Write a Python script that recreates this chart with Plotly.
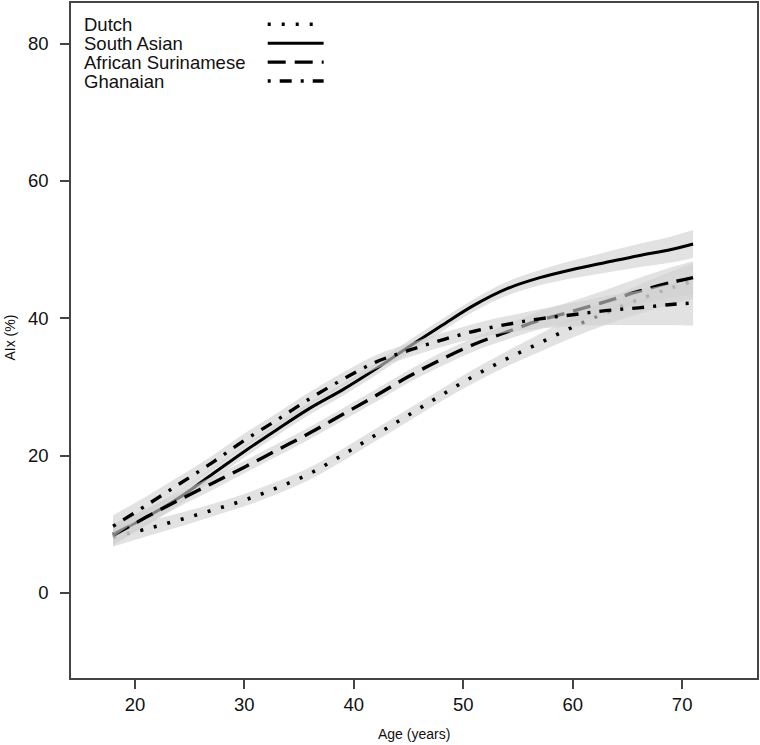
import plotly.graph_objects as go

# ---- data ----
ages = [18, 21, 24, 27, 30, 33, 36, 39, 42, 45, 48, 51, 54, 57, 60, 63, 66, 69, 71]

dutch = [8.1, 9.3, 10.6, 12.0, 13.5, 15.3, 17.4, 20.1, 23.0, 25.9, 28.8, 31.6, 34.1, 36.4, 38.7, 40.8, 42.7, 44.4, 45.4]
south_asian = [8.6, 11.0, 13.8, 17.2, 20.6, 23.8, 26.9, 29.6, 32.6, 35.8, 38.9, 41.9, 44.3, 45.9, 47.1, 48.1, 49.1, 50.0, 50.8]
african_surinamese = [8.4, 11.0, 13.5, 15.9, 18.3, 20.8, 23.3, 26.0, 28.7, 31.5, 34.0, 36.2, 38.0, 39.7, 41.0, 42.4, 43.9, 45.2, 45.9]
ghanaian = [9.7, 12.7, 15.8, 18.9, 22.2, 25.2, 28.3, 31.1, 33.6, 35.3, 36.8, 38.1, 39.1, 39.9, 40.5, 41.1, 41.5, 42.0, 42.2]

# half widths of the confidence bands
dutch_hw = [1.4, 1.1, 1.0, 0.9, 0.9, 0.9, 0.9, 0.9, 0.9, 0.9, 0.9, 1.0, 1.1, 1.3, 1.5, 1.8, 2.1, 2.4, 2.6]
south_asian_hw = [1.5, 1.2, 1.0, 0.9, 0.9, 0.9, 0.9, 0.9, 0.9, 0.9, 0.9, 0.9, 1.0, 1.1, 1.3, 1.5, 1.7, 1.9, 2.05]
african_surinamese_hw = [1.5, 1.2, 1.0, 1.0, 0.9, 0.9, 0.9, 0.9, 0.9, 0.9, 1.0, 1.0, 1.1, 1.3, 1.5, 1.7, 1.9, 2.2, 2.4]
ghanaian_hw = [1.6, 1.3, 1.1, 1.0, 1.0, 1.0, 1.0, 1.0, 1.0, 1.0, 1.0, 1.1, 1.2, 1.4, 1.7, 2.1, 2.5, 3.0, 3.3]

group_names = ["Dutch", "South Asian", "African Surinamese", "Ghanaian"]
x_ticks = [20, 30, 40, 50, 60, 70]
y_ticks = [0, 20, 40, 60, 80]

# ---- styles ----
FONT = "Liberation Sans, Arial, Helvetica, sans-serif"
BAND = "rgba(208,208,208,0.62)"
series = [
    (dutch, dutch_hw, "3px,11px", 3.6),
    (south_asian, south_asian_hw, "solid", 3.0),
    (african_surinamese, african_surinamese_hw, "18px,9px", 3.4),
    (ghanaian, ghanaian_hw, "3px,9px,12px,9px", 3.4),
]

fig = go.Figure()
for name, (vals, hw, dash, w) in zip(group_names, series):
    lo = [v - h for v, h in zip(vals, hw)]
    hi = [v + h for v, h in zip(vals, hw)]
    fig.add_trace(go.Scatter(x=ages, y=lo, mode="lines", line=dict(width=0, shape="spline", color=BAND),
                             showlegend=False, hoverinfo="skip"))
    fig.add_trace(go.Scatter(x=ages, y=hi, mode="lines", line=dict(width=0, shape="spline", color=BAND),
                             fill="tonexty", fillcolor=BAND, showlegend=False, hoverinfo="skip"))
    fig.add_trace(go.Scatter(x=ages, y=vals, mode="lines", name=name,
                             line=dict(color="black", width=w, dash=dash, shape="spline"),
                             showlegend=False))

# plot area geometry (pixels)
W, H = 760, 745
L, R, T, B = 71, 2, 1, 67
pw, ph = W - L - R, H - T - B

def px(xp):
    return (xp - L) / pw

def py(yp):
    return 1 - (yp - T) / ph

# manual legend (text left, line sample right)
rows_y = [22.3, 41.3, 60.3, 79.3]
annotations = []
shapes = []
for name, (vals, hw, dash, w), ry in zip(group_names, series, rows_y):
    annotations.append(dict(x=px(82), y=py(ry), xref="paper", yref="paper", text=name, showarrow=False,
                            xanchor="left", yanchor="middle",
                            font=dict(family=FONT, size=18.5, color="#111")))
    shapes.append(dict(type="line", xref="paper", yref="paper", x0=px(268), x1=px(324), y0=py(ry), y1=py(ry),
                       line=dict(color="black", width=w, dash=dash)))

# axis titles
annotations.append(dict(x=0.5, y=0, xref="paper", yref="paper", text="Age (years)", showarrow=False,
                        xanchor="center", yanchor="middle", yshift=-56,
                        font=dict(family=FONT, size=14, color="#111")))
annotations.append(dict(x=0, y=0.5, xref="paper", yref="paper", text="AIx (%)", showarrow=False,
                        xanchor="center", yanchor="middle", xshift=-62, yshift=3, textangle=-90,
                        font=dict(family=FONT, size=14, color="#111")))

axis_common = dict(showgrid=False, zeroline=False, showline=True, mirror=True, linecolor="#444", linewidth=1.5,
                   ticks="outside", ticklen=9, tickwidth=1.5, tickcolor="#444",
                   tickfont=dict(family=FONT, size=18.5, color="#111"))

fig.update_layout(
    width=W, height=H,
    margin=dict(l=L, r=R, t=T, b=B, pad=0),
    paper_bgcolor="white", plot_bgcolor="white",
    showlegend=False,
    xaxis=dict(range=[14.16, 76.84], tickvals=x_ticks, ticktext=[str(v) for v in x_ticks], **axis_common),
    yaxis=dict(range=[-12.4, 85.9], tickvals=y_ticks, ticktext=[str(v) for v in y_ticks],
               ticklabelstandoff=8, **axis_common),
    annotations=annotations,
    shapes=shapes,
)

fig.write_html("out.html", config={"displayModeBar": False},
               post_script="document.body.style.margin='0';document.body.style.overflow='hidden';")
